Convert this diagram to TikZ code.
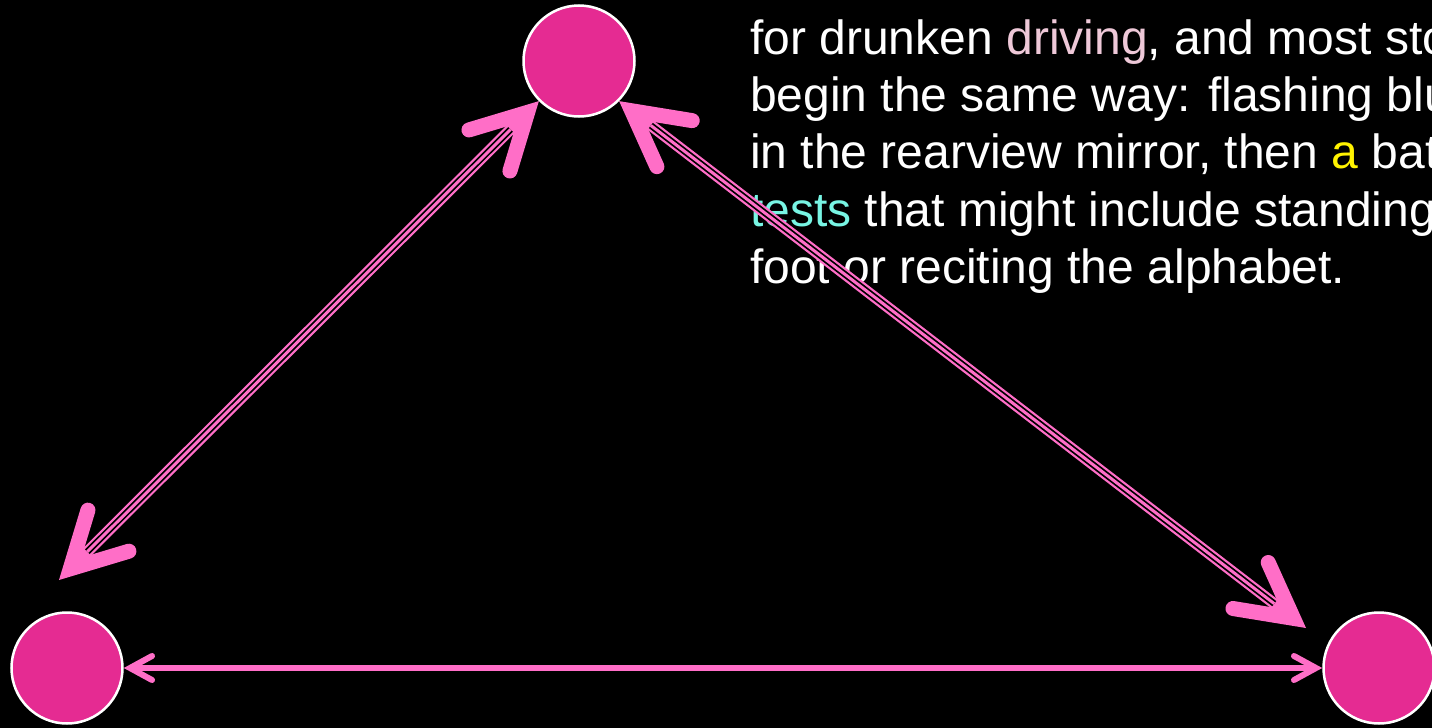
\documentclass[tikz,border=0pt]{standalone}
\usepackage{fontspec}
\setmainfont{Liberation Sans}
\usetikzlibrary{arrows.meta}
\definecolor{dotfill}{HTML}{E52B92}
\definecolor{linkpink}{HTML}{FF6EC7}
\definecolor{drvpink}{HTML}{EEC8D8}
\definecolor{tstcyan}{HTML}{78F5E4}

\begin{document}
\begin{tikzpicture}[x=1pt, y=-1pt,
    dot/.style={circle, draw=white, line width=2.5pt, fill=dotfill, minimum size=111pt, inner sep=0pt},
    txt/.style={anchor=base west, inner sep=0pt, text=white, font=\fontsize{48pt}{57pt}\selectfont},
    bigbarb/.tip={Straight Barb[length=54pt, width=58pt, line width'=15pt, line cap=round, line join=miter]},
    smallbarb/.tip={Straight Barb[length=22pt, width=24pt, line width'=6pt, line cap=round, line join=miter]},
    triple/.style={draw=linkpink, line width=11pt, arrows={bigbarb-bigbarb},
        postaction={draw=black, line width=6.5pt, arrows=-, shorten <=40pt, shorten >=40pt},
        postaction={draw=linkpink, line width=3pt, arrows=-, shorten <=40pt, shorten >=40pt}},
    link/.style={draw=linkpink, line width=5.5pt, arrows={smallbarb-smallbarb}}]
    \useasboundingbox (0,0) rectangle (1432,728);
    \fill[black] (0,0) rectangle (1432,728);

    % text block, cut off at the right edge
    \foreach \n/\y/\t in {1/54/{for drunken {\color{drvpink}driving}, and most sto},
        2/111/{begin the same way: flashing blu},
        3/168/{in the rearview mirror, then {\color{yellow}a} bat},
        4/226/{{\color{tstcyan}tests} that might include standing},
        5/283/{foot or reciting the alphabet.}} {
        \node[txt] (line\n) at (750,\y) {\t};
    }

    \node[dot] (hub) at (579,61) {}; \node[dot] (west) at (67,668) {}; \node[dot] (east) at (1379,668) {};
    \coordinate (westtip) at (59,580); \coordinate (easttip) at (1306,628);

    \draw[triple] (hub.225) -- (westtip);
    \draw[triple] (hub.315) -- (easttip);
    \draw[link] (west) -- (east);
\end{tikzpicture}
\end{document}
